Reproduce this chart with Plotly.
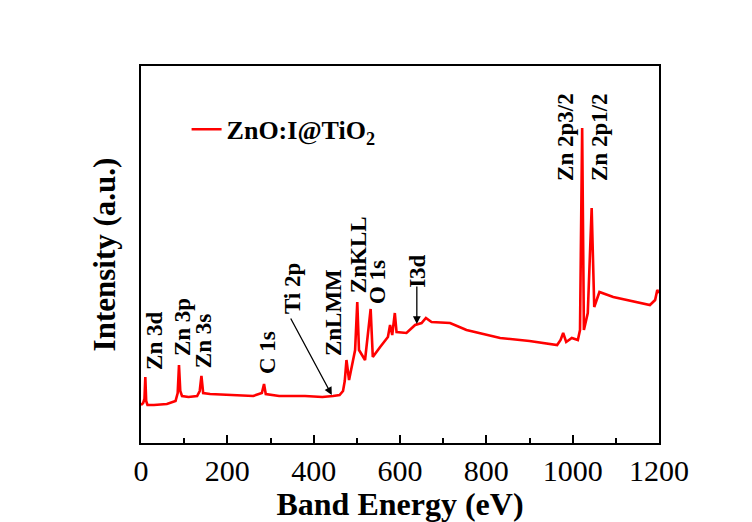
import plotly.graph_objects as go

# XPS survey spectrum of ZnO:I@TiO2 (binding energy in eV, intensity in arbitrary units)
energy = [0, 5, 8, 10, 12, 15, 30, 60, 80, 85, 88, 91, 95, 110, 130, 136, 140, 144,
          160, 200, 230, 260, 280, 285, 289, 320, 380, 420, 445, 460, 468, 472, 476,
          482, 496, 501, 505, 519, 532, 537, 554, 572, 577, 582, 588, 592, 615, 635,
          650, 660, 673, 716, 754, 801, 832, 900, 964, 972, 978, 985, 998, 1012, 1017,
          1022, 1026, 1035, 1044, 1050, 1062, 1094, 1133, 1179, 1191, 1196, 1200]
intensity = [38, 40, 44, 66, 42, 38, 38, 39, 42, 50, 78, 52, 47, 46, 47, 52, 67, 50,
             49, 48, 47, 47, 50, 59, 49, 47, 47, 46, 47, 48, 52, 62, 83,
             63, 93, 141, 93, 83, 134, 86, 96, 106, 118, 108, 130, 111, 110, 118,
             120, 125, 121, 120, 113, 108, 105, 102, 98, 103, 110, 101, 105, 103, 113,
             315, 113, 130, 235, 136, 151, 146, 142, 138, 143, 153, 150]

# Peak labels: (text, x, y) and arrows: (head_x, head_y, tail_x, tail_y)
peak_labels = [("Zn 3d", 30, 102), ("Zn 3p", 95, 116), ("Zn 3s", 144, 102),
               ("C 1s", 292, 90), ("Ti 2p", 350, 154), ("ZnLMM", 445, 130),
               ("ZnKLL", 503, 188), ("O 1s", 547, 161), ("I3d", 639, 172),
               ("Zn 2p3/2", 982, 306), ("Zn 2p1/2", 1061, 306)]
arrows = [(442, 48, 345, 126), (639, 119, 639, 158)]

x_ticks = [0, 200, 400, 600, 800, 1000, 1200]

FONT = "Liberation Serif, Times New Roman, serif"

fig = go.Figure()
fig.add_trace(go.Scatter(
    x=energy, y=intensity, mode="lines",
    line=dict(color="#ff0000", width=2.6),
    name="<b>ZnO:I@TiO<sub>2</sub></b>",
))

for text, x, y in peak_labels:
    fig.add_annotation(x=x, y=y, text=f"<b>{text}</b>", textangle=-90,
                       showarrow=False, xanchor="center", yanchor="middle",
                       font=dict(family=FONT, size=23, color="black"))

for hx, hy, tx, ty in arrows:
    fig.add_annotation(x=hx, y=hy, ax=tx, ay=ty, axref="x", ayref="y",
                       text="", showarrow=True, arrowhead=2, arrowsize=1.2,
                       arrowwidth=1.3, arrowcolor="black")

fig.update_layout(
    width=752, height=522,
    margin=dict(l=141, r=93, t=66, b=79, autoexpand=False),
    paper_bgcolor="white", plot_bgcolor="white",
    font=dict(family=FONT, color="black"),
    showlegend=True,
    legend=dict(x=0.088, y=0.832, xanchor="left", yanchor="middle",
                bgcolor="rgba(0,0,0,0)", font=dict(family=FONT, size=26, color="black")),
    xaxis=dict(
        range=[0, 1200], tickvals=x_ticks, ticktext=[str(v) for v in x_ticks],
        ticks="inside", ticklen=8, tickwidth=2, tickcolor="black",
        minor=dict(dtick=100, ticks="inside", ticklen=5, tickwidth=2, tickcolor="black"),
        showline=True, linewidth=2, linecolor="black", mirror=True,
        showgrid=False, zeroline=False, automargin=False,
        tickfont=dict(family=FONT, size=30, color="black"),
        title=dict(text="<b>Band Energy (eV)</b>", standoff=12,
                   font=dict(family=FONT, size=32, color="black")),
    ),
    yaxis=dict(
        range=[0, 377], showticklabels=False, ticks="",
        showline=True, linewidth=2, linecolor="black", mirror=True,
        showgrid=False, zeroline=False, automargin=False,
        title=dict(text="<b>Intensity (a.u.)</b>", standoff=14,
                   font=dict(family=FONT, size=31, color="black")),
    ),
)

fig.write_html("out.html", config={"displayModeBar": False},
               post_script="document.body.style.margin='0';")
